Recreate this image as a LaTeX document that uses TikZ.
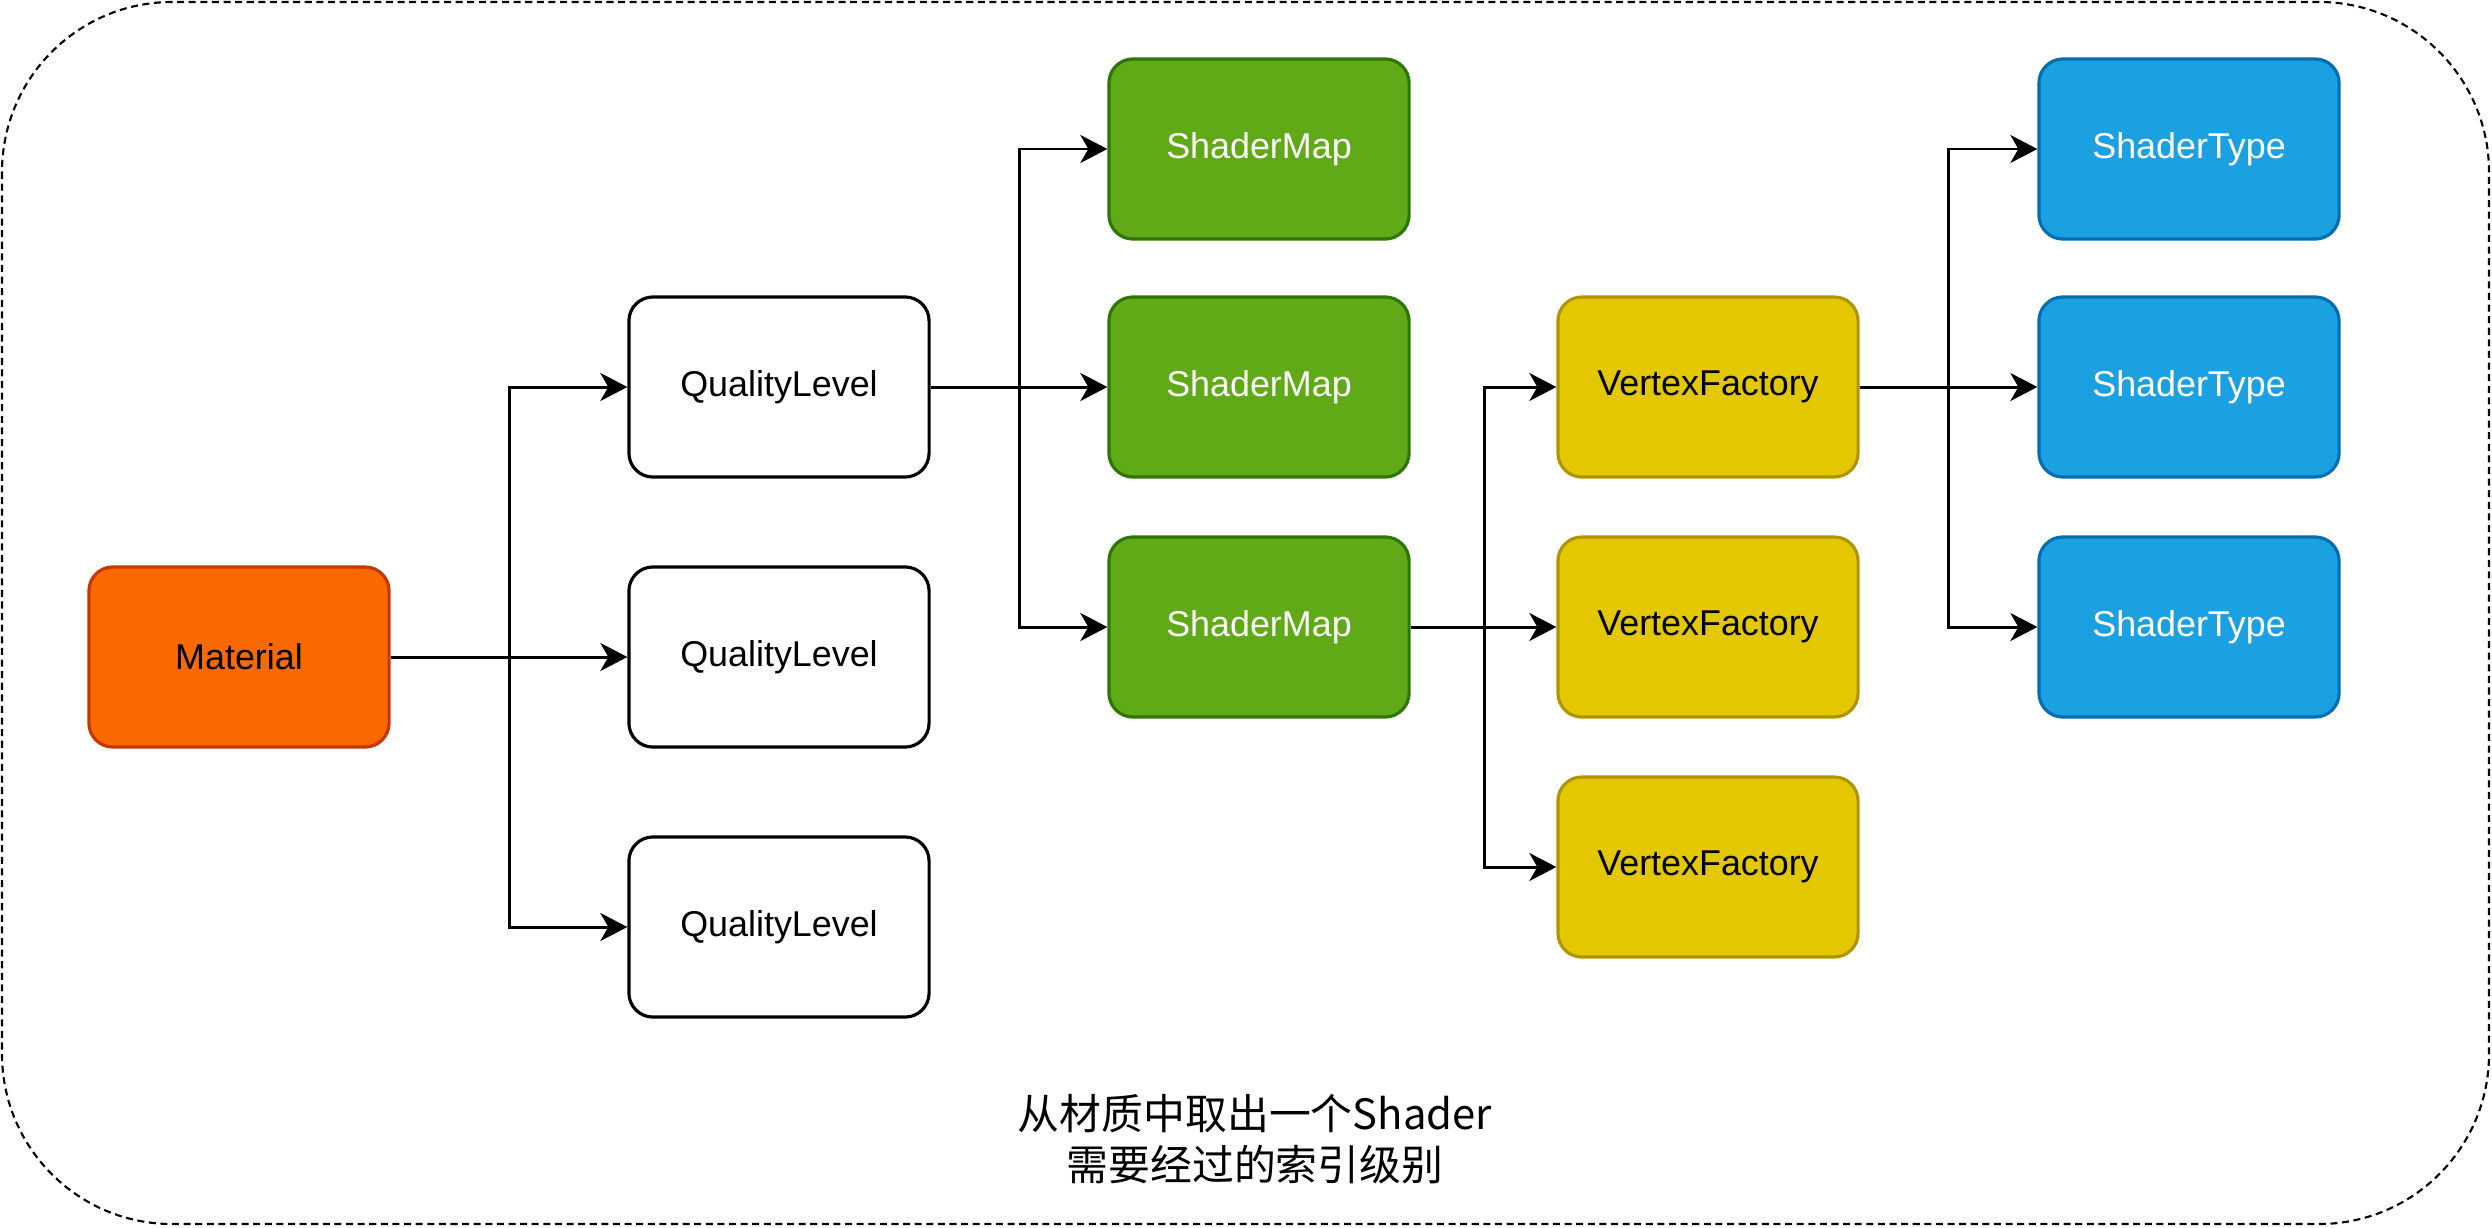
\documentclass[tikz,border=0pt]{standalone}
\usepackage{fontspec}
\setmainfont{Liberation Sans}
\newfontfamily\cjk{Noto Sans CJK SC}
\usetikzlibrary{arrows.meta}
\definecolor{matfill}{HTML}{FA6800}
\definecolor{matdraw}{HTML}{C73500}
\definecolor{smfill}{HTML}{60A917}
\definecolor{smdraw}{HTML}{2D7600}
\definecolor{vffill}{HTML}{E3C800}
\definecolor{vfdraw}{HTML}{B09500}
\definecolor{stfill}{HTML}{1BA1E2}
\definecolor{stdraw}{HTML}{006EAF}
\begin{document}
\begin{tikzpicture}[x=0.01cm,y=-0.01cm,
  box/.style={rectangle,rounded corners=0.24cm,minimum width=3cm,minimum height=1.8cm,
    line width=0.9pt,font=\fontsize{10.2}{12}\selectfont,inner sep=0pt},
  qlbox/.style={box,draw=black,fill=white,text=black},
  matbox/.style={box,draw=matdraw,fill=matfill,text=black},
  smbox/.style={box,draw=smdraw,fill=smfill,text=white},
  vfbox/.style={box,draw=vfdraw,fill=vffill,text=black},
  stbox/.style={box,draw=stdraw,fill=stfill,text=white},
  conn/.style={line width=0.85pt,draw=black,-{Stealth[length=0.27cm,width=0.28cm,inset=0.08cm]}}
]
\useasboundingbox (0,0) rectangle (2492,1227);
\draw[line width=0.6pt,dash pattern=on 2pt off 1.3pt,rounded corners=1.7cm] (2,2) rectangle (2489,1224);

\node[matbox] (mat) at (239,657) {Material};
\node[qlbox] (ql1) at (779,387) {QualityLevel};
\node[qlbox] (ql2) at (779,657) {QualityLevel};
\node[qlbox] (ql3) at (779,927) {QualityLevel};
\node[smbox] (sm1) at (1259,149) {ShaderMap};
\node[smbox] (sm2) at (1259,387) {ShaderMap};
\node[smbox] (sm3) at (1259,627) {ShaderMap};
\node[vfbox] (vf1) at (1708,387) {VertexFactory};
\node[vfbox] (vf2) at (1708,627) {VertexFactory};
\node[vfbox] (vf3) at (1708,867) {VertexFactory};
\node[stbox] (st1) at (2189,149) {ShaderType};
\node[stbox] (st2) at (2189,387) {ShaderType};
\node[stbox] (st3) at (2189,627) {ShaderType};

\coordinate (b1) at (509,0);
\coordinate (b2) at (1019,0);
\coordinate (b3) at (1484,0);
\coordinate (b4) at (1948,0);

\draw[conn] (mat.east) -- (ql2.west);
\draw[conn] (mat.east) -- (b1 |- mat.east) |- (ql1.west);
\draw[conn] (mat.east) -- (b1 |- mat.east) |- (ql3.west);

\draw[conn] (ql1.east) -- (sm2.west);
\draw[conn] (ql1.east) -- (b2 |- ql1.east) |- (sm1.west);
\draw[conn] (ql1.east) -- (b2 |- ql1.east) |- (sm3.west);

\draw[conn] (sm3.east) -- (vf2.west);
\draw[conn] (sm3.east) -- (b3 |- sm3.east) |- (vf1.west);
\draw[conn] (sm3.east) -- (b3 |- sm3.east) |- (vf3.west);

\draw[conn] (vf1.east) -- (st2.west);
\draw[conn] (vf1.east) -- (b4 |- vf1.east) |- (st1.west);
\draw[conn] (vf1.east) -- (b4 |- vf1.east) |- (st3.west);

\node[align=center,font=\cjk\fontsize{11.9}{14.6}\selectfont,inner sep=0pt] (cap) at (1255,1139) {从材质中取出一个Shader\\需要经过的索引级别};
\end{tikzpicture}
\end{document}
